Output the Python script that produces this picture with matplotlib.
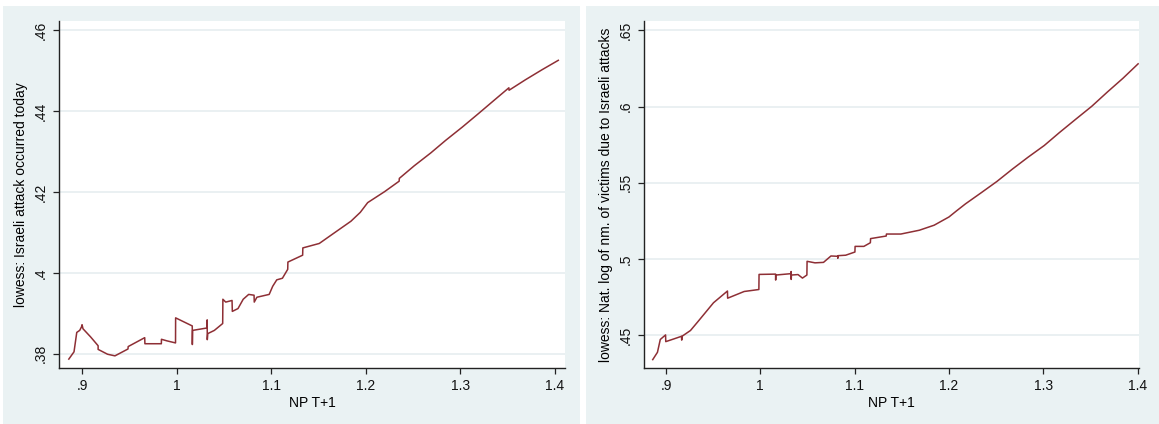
import matplotlib.pyplot as plt
from matplotlib.patches import Rectangle

PANEL_BG = "#eaf2f3"
GRID = "#e6eef0"
LINE = "#8e2f35"
AXIS = "#222222"

plt.rcParams.update({
    "font.family": ["Liberation Sans", "DejaVu Sans"],
    "font.size": 10,
})

# left panel: lowess of Israeli attack occurred today on NP T+1
attack_x = [0.886, 0.8915, 0.8944, 0.8975, 0.8995, 0.900, 0.901, 0.909, 0.917, 0.917,
            0.927, 0.9348, 0.9486, 0.9488, 0.9663, 0.9665, 0.9839, 0.984, 0.990, 0.9989,
            0.999, 1.0166, 1.0167, 1.0170, 1.0323, 1.0324, 1.0325, 1.0330, 1.0400, 1.0488,
            1.0490, 1.0520, 1.0587, 1.0590, 1.0650, 1.0705, 1.0763, 1.0820, 1.0822, 1.0850,
            1.0980, 1.1017, 1.1060, 1.1120, 1.1176, 1.1178, 1.1334, 1.1336, 1.1510, 1.1668,
            1.1845, 1.1944, 1.2022, 1.2200, 1.2355, 1.2357, 1.2514, 1.2690, 1.2847, 1.3024,
            1.3193, 1.3359, 1.3516, 1.3518, 1.3692, 1.3869, 1.4039]
attack_y = [0.3787, 0.3805, 0.3853, 0.3858, 0.3867, 0.3872, 0.3862, 0.3842, 0.3820, 0.3811,
            0.3799, 0.3795, 0.3812, 0.3818, 0.3840, 0.3825, 0.3825, 0.3836, 0.3832, 0.3827,
            0.3889, 0.3869, 0.3823, 0.3858, 0.3864, 0.3884, 0.3835, 0.3850, 0.3858, 0.3875,
            0.3935, 0.3928, 0.3932, 0.3905, 0.3912, 0.3935, 0.3947, 0.3945, 0.3928, 0.3940,
            0.3947, 0.3967, 0.3983, 0.3987, 0.4009, 0.4027, 0.4044, 0.4062, 0.4073, 0.4099,
            0.4128, 0.4150, 0.4174, 0.4201, 0.4227, 0.4234, 0.4265, 0.4297, 0.4328, 0.4361,
            0.4394, 0.4427, 0.4458, 0.4452, 0.4478, 0.4503, 0.4526]

# right panel: lowess of log number of victims on NP T+1
victims_x = [0.886, 0.891, 0.894, 0.8996, 0.8998, 0.908, 0.9165, 0.9167, 0.917, 0.926,
             0.934, 0.9504, 0.9652, 0.9654, 0.9829, 0.9985, 0.9987, 1.0162, 1.0163, 1.0165,
             1.0326, 1.0327, 1.0328, 1.0330, 1.0400, 1.0447, 1.0494, 1.0496, 1.0580, 1.0670,
             1.0749, 1.0820, 1.0822, 1.0824, 1.0905, 1.1003, 1.1005, 1.1098, 1.1167, 1.1169,
             1.1335, 1.1337, 1.1490, 1.1686, 1.1843, 1.2000, 1.2078, 1.2175, 1.2344, 1.2508,
             1.2672, 1.2840, 1.3010, 1.3173, 1.3347, 1.3513, 1.3681, 1.3844, 1.4005]
victims_y = [0.4340, 0.4388, 0.4472, 0.4502, 0.4458, 0.4475, 0.4493, 0.4468, 0.4493, 0.4531,
             0.4590, 0.4713, 0.4790, 0.4743, 0.4787, 0.4800, 0.4899, 0.4901, 0.4862, 0.4895,
             0.4904, 0.4918, 0.4866, 0.4895, 0.4898, 0.4875, 0.4895, 0.4985, 0.4975, 0.4978,
             0.5020, 0.5018, 0.5005, 0.5022, 0.5025, 0.5046, 0.5083, 0.5083, 0.5107, 0.5134,
             0.5151, 0.5164, 0.5164, 0.5189, 0.5222, 0.5276, 0.5315, 0.5362, 0.5436, 0.5509,
             0.5590, 0.5669, 0.5745, 0.5831, 0.5919, 0.6002, 0.6097, 0.6186, 0.6281]

x_ticks = [0.9, 1.0, 1.1, 1.2, 1.3, 1.4]
x_labels = [".9", "1", "1.1", "1.2", "1.3", "1.4"]
attack_ticks = [0.38, 0.40, 0.42, 0.44, 0.46]
attack_labels = [".38", ".4", ".42", ".44", ".46"]
victims_ticks = [0.45, 0.50, 0.55, 0.60, 0.65]
victims_labels = [".45", ".5", ".55", ".6", ".65"]


def style(ax, xlim, ylim, yticks, ylabels, ylabel):
    ax.set_xlim(*xlim)
    ax.set_ylim(*ylim)
    ax.set_xticks(x_ticks)
    ax.set_xticklabels(x_labels)
    ax.set_yticks(yticks)
    ax.set_yticklabels(ylabels, rotation=90, va="center")
    ax.set_xlabel("NP T+1", labelpad=2)
    ax.set_ylabel(ylabel, labelpad=4)
    ax.grid(axis="y", color=GRID, lw=1.2)
    ax.set_axisbelow(True)
    for spine in ("top", "right"):
        ax.spines[spine].set_visible(False)
    for spine in ("left", "bottom"):
        ax.spines[spine].set_color(AXIS)
        ax.spines[spine].set_linewidth(1.0)
    ax.tick_params(length=4.5, width=0.9, color=AXIS, labelcolor="#111111", pad=3.5)


fig = plt.figure(figsize=(11.59, 4.24), dpi=100, facecolor="white")
fig.patches.append(Rectangle((0.0026, 0.0), 0.4978, 0.9858, transform=fig.transFigure,
                             facecolor=PANEL_BG, edgecolor="none", zorder=-5))
fig.patches.append(Rectangle((0.5056, 0.0), 0.4944, 0.9858, transform=fig.transFigure,
                             facecolor=PANEL_BG, edgecolor="none", zorder=-5))

ax1 = fig.add_axes([0.0509, 0.1321, 0.4366, 0.8191], zorder=2)
ax1.plot(attack_x, attack_y, color=LINE, lw=1.1)
style(ax1, (0.8756, 1.411), (0.3765, 0.4624), attack_ticks, attack_labels,
      "lowess: Israeli attack occurred today")

ax2 = fig.add_axes([0.5557, 0.1321, 0.4271, 0.8191], zorder=2)
ax2.plot(victims_x, victims_y, color=LINE, lw=1.1)
style(ax2, (0.8768, 1.4015), (0.4285, 0.6564), victims_ticks, victims_labels,
      "lowess: Nat. log of nm. of victims due to Israeli attacks")

fig.savefig("out.png", dpi=100, facecolor="white")
